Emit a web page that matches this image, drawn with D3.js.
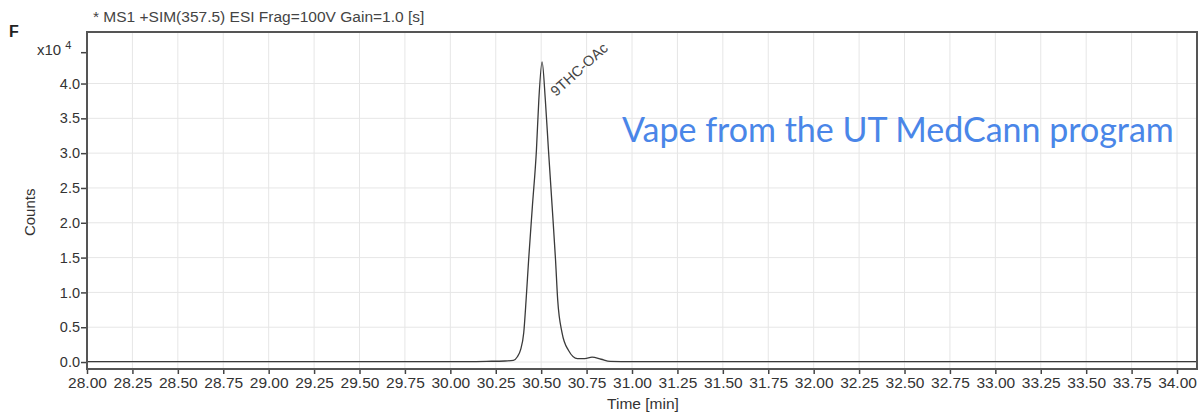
<!DOCTYPE html>
<html lang="en">
<head>
<meta charset="utf-8">
<title>Chromatogram</title>
<script src="https://cdn.jsdelivr.net/npm/d3@7"></script>
<style>
	body { margin: 0; background: #fff; }
	svg { display: block; font-family: "Liberation Sans", Arial, sans-serif; }
	.grid line { stroke: #e6e6e6; stroke-width: 1; }
	.axis text { fill: #333; }
	.axis line { stroke: #444; stroke-width: 1.5; }
</style>
</head>
<body>
<div id="chart"></div>
<script>
	// retention time (min) and counts (x10^4)
	var times  = [28.00, 28.50, 29.00, 29.50, 30.00, 30.20, 30.30, 30.347, 30.37, 30.386, 30.404, 30.417, 30.431, 30.452, 30.474, 30.487, 30.505, 30.523, 30.540, 30.560, 30.579, 30.591, 30.615, 30.650, 30.70, 30.74, 30.78, 30.83, 30.88, 31.00, 31.50, 32.00, 32.50, 33.00, 33.50, 34.00, 34.11];
	var counts = [0.005, 0.005, 0.005, 0.005, 0.005, 0.01, 0.015, 0.025, 0.08, 0.17, 0.42, 0.89, 1.47, 2.25, 3.05, 3.76, 4.31, 3.76, 3.05, 2.25, 1.47, 0.89, 0.42, 0.17, 0.05, 0.05, 0.07, 0.04, 0.01, 0.005, 0.005, 0.005, 0.005, 0.005, 0.005, 0.005, 0.005];
	var xTicks = [28.00, 28.25, 28.50, 28.75, 29.00, 29.25, 29.50, 29.75, 30.00, 30.25, 30.50, 30.75, 31.00, 31.25, 31.50, 31.75, 32.00, 32.25, 32.50, 32.75, 33.00, 33.25, 33.50, 33.75, 34.00];
	var yTicks = [0.0, 0.5, 1.0, 1.5, 2.0, 2.5, 3.0, 3.5, 4.0];
	var peakName = "9THC-OAc";
	var title = "* MS1 +SIM(357.5) ESI Frag=100V Gain=1.0 [s]";
	var note = "Vape from the UT MedCann program";

	var W = 1199, H = 412;
	var margin = {top: 32, right: 2, bottom: 43, left: 87},
		width = W - margin.left - margin.right,
		height = H - margin.top - margin.bottom;

	var svg = d3.select("#chart").append("svg")
		.attr("width", W)
		.attr("height", H);

	var g = svg.append("g")
		.attr("transform", "translate(" + margin.left + "," + margin.top + ")");

	var x = d3.scaleLinear().domain([28, 34.11]).range([0, width]),
		y = d3.scaleLinear().domain([-0.1, 4.74]).range([height, 0]);

	// grid
	g.append("g").attr("class", "grid")
		.selectAll("line").data(xTicks).enter().append("line")
		.attr("x1", function(d) { return x(d); }).attr("x2", function(d) { return x(d); })
		.attr("y1", 0).attr("y2", height);
	g.append("g").attr("class", "grid")
		.selectAll("line").data(yTicks).enter().append("line")
		.attr("x1", 0).attr("x2", width)
		.attr("y1", function(d) { return y(d); }).attr("y2", function(d) { return y(d); });

	// axes
	var xAxis = d3.axisBottom(x).tickValues(xTicks).tickSize(5).tickPadding(3)
		.tickFormat(d3.format(".2f"));
	var yAxis = d3.axisLeft(y).tickValues(yTicks.concat([4.45])).tickSize(6).tickPadding(1)
		.tickFormat(function(d) { return d > 4.2 ? "" : d3.format(".1f")(d); });

	g.append("g").attr("class", "axis")
		.attr("transform", "translate(0," + height + ")")
		.call(xAxis)
		.call(function(s) {
			s.select(".domain").remove();
			s.selectAll("text").attr("font-size", 15.5);
		});
	g.append("g").attr("class", "axis")
		.call(yAxis)
		.call(function(s) {
			s.select(".domain").remove();
			s.selectAll("text").attr("font-size", 14.5);
		});

	// trace
	var line = d3.line()
		.x(function(d, i) { return x(times[i]); })
		.y(function(d) { return y(d); })
		.curve(d3.curveMonotoneX);

	g.append("path")
		.datum(counts)
		.attr("fill", "none")
		.attr("stroke", "#3a3a3a")
		.attr("stroke-width", 1.3)
		.attr("d", line);

	// frame
	g.append("rect")
		.attr("width", width).attr("height", height)
		.attr("fill", "none").attr("stroke", "#555").attr("stroke-width", 2);

	// peak label
	var iPeak = counts.indexOf(d3.max(counts));
	g.append("text")
		.attr("transform", "translate(" + (x(times[iPeak]) + 14) + "," + (y(counts[iPeak]) + 35) + ") rotate(-42)")
		.attr("font-size", 14.5)
		.attr("fill", "#444")
		.text(peakName);

	// texts
	svg.append("text").attr("x", 93).attr("y", 22)
		.attr("font-size", 15.5).attr("fill", "#444").text(title);
	svg.append("text").attr("x", 9).attr("y", 37)
		.attr("font-size", 16).attr("font-weight", "bold").attr("fill", "#222").text("F");
	var sci = svg.append("text").attr("x", 37).attr("y", 55).attr("font-size", 15).attr("fill", "#333");
	sci.append("tspan").text("x10 ");
	sci.append("tspan").attr("dy", -6).attr("font-size", 11).text("4");
	svg.append("text")
		.attr("transform", "translate(35," + (margin.top + y(2.15)) + ") rotate(-90)")
		.attr("text-anchor", "middle").attr("font-size", 15).attr("fill", "#333")
		.text("Counts");
	svg.append("text").attr("x", 643).attr("y", 409)
		.attr("text-anchor", "middle").attr("font-size", 15.5).attr("fill", "#333")
		.text("Time [min]");
	svg.append("text").attr("x", 622).attr("y", 142)
		.attr("font-family", "Lato, sans-serif").attr("font-size", 34).attr("fill", "#4a86e8")
		.text(note);
</script>
</body>
</html>
